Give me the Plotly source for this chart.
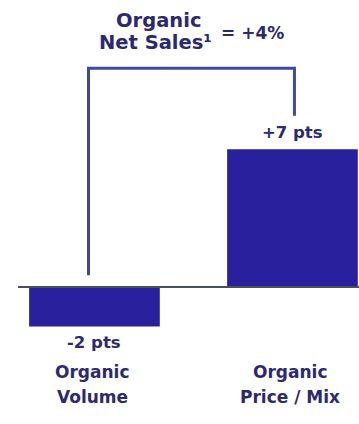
import plotly.graph_objects as go

categories = [["Organic", "Volume"], ["Organic", "Price / Mix"]]
values = [-2, 7]
value_labels = ["-2 pts", "+7 pts"]
total_label = "= +4%"
title_lines = ["Organic", "Net Sales¹"]

bar_color = "#28209C"
text_color = "#2B2A70"
bracket_color = "#3E4B9C"
axis_color = "#4A4F5E"
font_family = "DejaVu Sans, sans-serif"

xpos = list(range(len(categories)))

fig = go.Figure()
fig.add_trace(go.Bar(x=xpos, y=values, width=0.66, marker=dict(color=bar_color, line=dict(width=0)),
                     hoverinfo="skip"))

def label(x, y, text, size, **kw):
    fig.add_annotation(x=x, y=y, text="<b>%s</b>" % text, showarrow=False, yanchor="middle",
                       font=dict(size=size, color=text_color, family=font_family), **kw)

# value labels
label(xpos[0], values[0] - 0.79, value_labels[0], 16.5)
label(xpos[1], values[1] + 0.87, value_labels[1], 16.5)

# category labels
for xi, lines in zip(xpos, categories):
    label(xi - 0.01, -4.31, lines[0], 17)
    label(xi - 0.01, -5.58, lines[1], 17)

# bracket
top = 11.1
fig.add_shape(type="path",
              path=f"M {xpos[0]-0.03},0.6 L {xpos[0]-0.03},{top} L {xpos[1]+0.01},{top} L {xpos[1]+0.01},{values[1]+1.7}",
              line=dict(color=bracket_color, width=3))

# baseline
fig.add_shape(type="line", x0=-0.386, x1=1.34, y0=0, y1=0, line=dict(color=axis_color, width=2))

# title
label(0.321, 13.52, title_lines[0], 19.5, borderpad=0)
label(0.307, 12.42, title_lines[1], 19.5, borderpad=0)
label(0.798, 12.9, total_label, 17)

fig.update_layout(
    width=359, height=424, margin=dict(l=0, r=0, t=0, b=0),
    paper_bgcolor="white", plot_bgcolor="white", showlegend=False,
    xaxis=dict(range=[-0.477, 1.336], visible=False, fixedrange=True),
    yaxis=dict(range=[-6.95, 14.57], visible=False, fixedrange=True),
)
fig.write_html("out.html", config={"displayModeBar": False})
